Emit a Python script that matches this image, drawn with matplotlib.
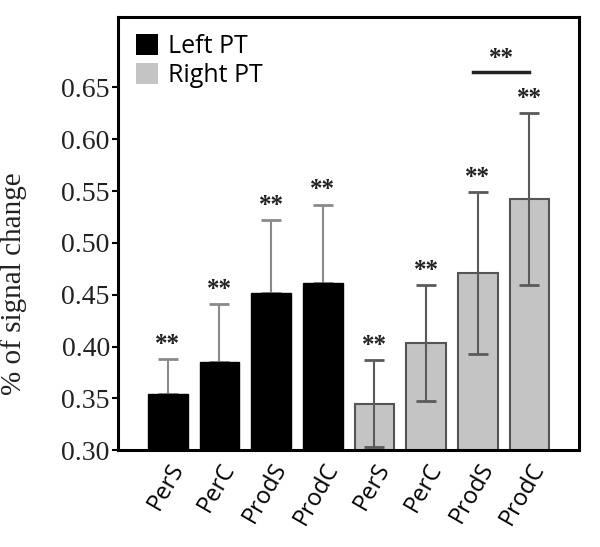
import matplotlib
matplotlib.use("Agg")
import matplotlib.pyplot as plt
from matplotlib.patches import Patch
import numpy as np

categories = ["PerS", "PerC", "ProdS", "ProdC"]
left_vals = [0.354, 0.385, 0.452, 0.461]
left_err = [0.034, 0.056, 0.070, 0.076]
right_vals = [0.345, 0.403, 0.471, 0.542]
right_err = [0.042, 0.056, 0.078, 0.083]
ytick_vals = [0.30, 0.35, 0.40, 0.45, 0.50, 0.55, 0.60, 0.65]

serif = ["Liberation Serif", "DejaVu Serif"]
sans = ["Open Sans", "DejaVu Sans"]


def main():
    fig = plt.figure(figsize=(6.0, 5.47), dpi=100)
    ax = fig.add_axes([0.197, 0.177, 0.768, 0.792])

    n = len(categories)
    xl = np.arange(n)
    xr = np.arange(n, 2 * n)
    w = 0.77

    ax.bar(xl, left_vals, width=w, color="black", edgecolor="black",
           linewidth=1.0, zorder=2)
    ax.errorbar(xl, left_vals, yerr=[np.zeros(n), left_err], fmt="none",
                ecolor="#8a8a8a", elinewidth=1.5, capsize=7, capthick=2, zorder=1)

    ax.bar(xr, right_vals, width=w, color="#c4c4c4", edgecolor="#555555",
           linewidth=1.5, zorder=2)
    ax.errorbar(xr, right_vals, yerr=right_err, fmt="none",
                ecolor="#5a5a5a", elinewidth=1.5, capsize=7, capthick=2, zorder=3)

    # stars above each error bar
    tops = [v + e for v, e in zip(left_vals + right_vals, left_err + right_err)]
    for x, t in zip(list(xl) + list(xr), tops):
        ax.text(x, t + 0.003, "**", ha="center", va="bottom", fontsize=18,
                fontweight="bold", family=serif, color="#222222")

    # significance bar between right ProdS and ProdC
    ax.plot([xr[2] - 0.1, xr[3]], [0.665, 0.665], color="#222222", lw=2.5)
    ax.text((xr[2] - 0.1 + xr[3]) / 2, 0.667, "**", ha="center", va="bottom",
            fontsize=18, fontweight="bold", family=serif, color="#222222")

    ax.set_xlim(-0.96, 2 * n - 1 + 0.96)
    ax.set_ylim(0.30, 0.718)
    ax.set_yticks(ytick_vals)
    ax.set_yticklabels(["%.2f" % v for v in ytick_vals], family=serif, fontsize=20,
                       color="#222222")
    ax.set_xticks(list(xl) + list(xr))
    ax.set_xticklabels(categories + categories, rotation=60, ha="right",
                       rotation_mode="anchor", family=sans, fontsize=17)
    ax.tick_params(axis="x", length=0, pad=6)
    ax.tick_params(axis="y", length=4, width=1.5, pad=2)
    ax.set_ylabel("% of signal change", family=serif, fontsize=21,
                  color="#222222")
    ax.yaxis.set_label_coords(-0.197, 0.385)

    for s in ax.spines.values():
        s.set_linewidth(2.2)

    handles = [Patch(facecolor="black", edgecolor="none"),
               Patch(facecolor="#c4c4c4", edgecolor="none")]
    ax.legend(handles, ["Left PT", "Right PT"], loc="upper left", frameon=False,
              prop={"family": sans, "size": 18},
              handlelength=0.9, handleheight=0.9, handletextpad=0.4,
              labelspacing=0.15, borderaxespad=0.3)

    fig.savefig("out.png", dpi=100)


if __name__ == '__main__':
    main()
